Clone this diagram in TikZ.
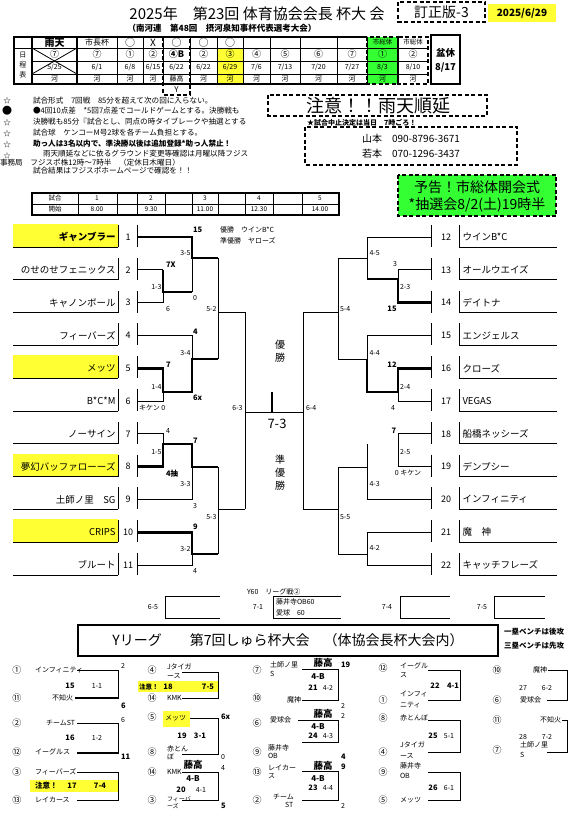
\documentclass[tikz,border=0pt]{standalone}
\usepackage{fontspec}
\setmainfont{Noto Sans CJK JP}
\newcommand\fs[1]{\fontsize{#1}{#1}\selectfont}
\definecolor{ylw}{HTML}{FFFF33}
\definecolor{grn}{HTML}{33FF33}
\begin{document}
\begin{tikzpicture}[x=1pt,y=-1pt,
  every node/.style={inner sep=0pt,outer sep=0pt},
  ln/.style={line width=0.8pt},
  win/.style={line width=2.6pt},
  tk/.style={line width=1.8pt},
  lbl/.style={font=\fs{7}},
  bn/.style={font=\fs{7.5}\bfseries},
  nm/.style={font=\fs{9.5}},
  sm/.style={font=\fs{7}},
  cn/.style={font=\fs{9}},
  fj/.style={font=\fs{9.5}\bfseries},
  fb/.style={font=\fs{8}\bfseries},
  nt/.style={font=\fs{7.6},anchor=west},
  dbox/.style={draw,line width=1.4pt,dash pattern=on 4pt off 2.5pt},
]
\useasboundingbox (0,0) rectangle (581,818);
\fill[white] (0,0) rectangle (581,818);

% ---------------- header
\node[font=\fs{15}] (title) at (257,14) {2025年　第23回 体育協会会長 杯大 会};
\node[font=\fs{8.5}\bfseries] (sub) at (222,28) {（南河連　第48回　摂河泉知事杯代表選考大会）};
\draw[dbox] (398,2) rectangle (485,22);
\node[font=\fs{14}] (ver) at (441.5,12) {訂正版-3};
\fill[ylw] (488,4) rectangle (556,22);
\node[font=\fs{10}\bfseries] (date) at (522,13.5) {2025/6/29};

% ---------------- schedule table
\fill[ylw] (217,48) rectangle (243,84);
\fill[grn] (367,37) rectangle (398,84);
\draw[ln] (14,48) -- (428,48);
\draw[ln] (32,61) -- (428,61) (32,74) -- (428,74);
\foreach \x in {32,77,117,143,163,190,217,243,270,300,337,367,398} \draw[ln] (\x,37) -- (\x,84);
\draw[line width=1.3pt] (367,37) -- (14,37) -- (14,84) -- (367,84);
\draw[line width=1.8pt] (32,37) rectangle (77,84);
\draw[ln] (32,48) -- (77,74) (32,74) -- (77,48);
\draw[dbox] (163,37) rectangle (190,95);
\draw[dbox] (367,37) rectangle (398,84);
\draw[dbox] (398,37) rectangle (428,84);
\node[font=\fs{8}] (ylab) at (176.5,90) {Y};
\draw[line width=2.2pt] (431,35) rectangle (460,84);
\node[font=\fs{9.5}\bfseries] (bon) at (445.5,53) {盆休};
\node[font=\fs{9.5}\bfseries] (bond) at (445.5,68) {8/17};
\node[font=\fs{7}] (k1) at (23,55) {日};
\node[font=\fs{7}] (k2) at (23,65) {程};
\node[font=\fs{7}] (k3) at (23,75) {表};
\node[font=\fs{10}\bfseries] (h1) at (54.5,42.5) {雨天};
\node[font=\fs{8}] (h2) at (97,42.5) {市長杯};
\foreach \x/\a [count=\i] in {130/○,153/X,176.5/○,203.5/○,230/○}
  \node[font=\fs{10}] (hh\i) at (\x,42.5) {\a};
\node[font=\fs{6.5}] (h13) at (382.5,42.5) {市総体};
\node[font=\fs{6.5}] (h14) at (413,42.5) {市総体};
\foreach \x/\a [count=\i] in {54.5/⑦,97/⑦,130/①,153/②,176.5/{\bfseries ④B},203.5/②,230/③,256.5/④,285/⑤,318.5/⑥,352/⑦,382.5/①,413/②}
  \node[font=\fs{9}] (c\i) at (\x,54.5) {\a};
\foreach \x/\m/\dd [count=\i] in {54.5/5/25,97/6/1,130/6/8,153/6/15,176.5/6/22,203.5/6/22,230/6/29,256.5/7/6,285/7/13,318.5/7/20,352/7/27,382.5/8/3,413/8/10}
  \node[font=\fs{7}] (d\i) at (\x,67.5) {\m/\dd};
\foreach \x/\a [count=\i] in {54.5/河,97/河,130/河,153/河,176.5/藤高,203.5/河,230/河,256.5/河,285/河,318.5/河,352/河,382.5/河,413/河}
  \node[font=\fs{7}] (g\i) at (\x,79) {\a};

% ---------------- notes
\begin{scope}
\clip (0,94) rectangle (249,176);
\node[font=\fs{7.5}] (s1) at (7,101) {☆};
\node[font=\fs{10}] (s2) at (7,111) {●};
\node[font=\fs{7.5}] (s3) at (7,123) {☆};
\node[font=\fs{7.5}] (s4) at (7,134) {☆};
\node[font=\fs{7.5}] (s5) at (7,145) {☆};
\node[font=\fs{7}] (s6) at (7,155.5) {☆};
\node[nt] (n1) at (33,100.5) {試合形式　7回戦　85分を超えて次の回に入らない。};
\node[nt] (n2) at (33,111) {●4回10点差　*5回7点差でコールドゲームとする。決勝戦も};
\node[nt] (n3) at (33,122) {決勝戦も85分『試合とし、同点の時タイブレークや抽選とする};
\node[nt] (n4) at (33,133) {試合球　ケンコーM号2球を各チーム負担とする。};
\node[nt,font=\fs{7.6}\bfseries] (n5) at (33,144) {助っ人は3名以内で、準決勝以後は追加登録*助っ人禁止！};
\node[nt] (n6) at (43,154) {雨天順延などに依るグラウンド変更等確認は月曜以降フジス};
\node[nt] (n7) at (0,163) {事務局　フジスポ株12時～7時半　（定休日木曜日）};
\node[nt] (n8) at (33,171) {試合結果はフジスポホームページで確認を！！};
\end{scope}

% ---------------- notice boxes
\draw[dbox] (268,95) rectangle (487,116);
\node[font=\fs{18}] (rain) at (378,105.5) {注意！！雨天順延};
\node[font=\fs{7}\bfseries,anchor=west] (stop) at (307,123) {★試合中止決定は当日　7時ごろ！};
\draw[dbox] (305,127) rectangle (517,165);
\node[font=\fs{10}] (tel1) at (411,138.5) {山本　090-8796-3671};
\node[font=\fs{10}] (tel2) at (411,153.5) {若本　070-1296-3437};
\draw[dbox,fill=grn] (398,175) rectangle (556,216);
\node[font=\fs{14}] (g1) at (477,187.5) {予告！市総体開会式};
\node[font=\fs{14}] (g2) at (477,204.5) {*抽選会8/2(土)19時半};

% ---------------- time table
\draw[ln] (32,204) -- (339,204);
\foreach \x in {78,117,137,165,192,218,245,273,302} \draw[ln] (\x,193) -- (\x,215);
\draw[line width=1.3pt] (32,193) rectangle (339,215);
\node[font=\fs{6.5}] (tt0) at (55,198.5) {試合};
\node[font=\fs{6.5}] (tu0) at (55,209.5) {開始};
\foreach \x/\a/\b [count=\i] in {97/1/8.00,151/2/9.30,205/3/11.00,259/4/12.30,320/5/14.00}{
  \node[font=\fs{6.5}] (tt\i) at (\x,198.5) {\a};
  \node[font=\fs{6.5}] (tu\i) at (\x,209.5) {\b};
}

% ---------------- teams
\foreach \i in {1,5,8,10} \fill[ylw] (13,{237+(\i-1)*32.8-13}) rectangle (118,{237+(\i-1)*32.8+10});
\foreach \t [count=\i] in {{\bfseries ギャンブラー},のせのせフェニックス,キャノンボール,フィーバーズ,メッツ,B*C*M,ノーサイン,夢幻バッファローーズ,土師ノ里　SG,CRIPS,ブルート}{
  \pgfmathsetmacro\y{237+(\i-1)*32.8}
  \draw[ln] (13,\y+10) -- (118,\y+10) (118,\y-12) -- (118,\y+10) (137,\y-12) -- (137,\y+10);
  \node[nm,anchor=east] (L\i) at (115.5,\y) {\t};
  \node[font=\fs{9}] (Ln\i) at (128,\y) {\i};
}
\foreach \t [count=\i] in {ウインB*C,オールウエイズ,デイトナ,エンジェルス,クローズ,VEGAS,船橋ネッシーズ,デンプシー,インフィニティ,魔　神,キャッチフレーズ}{
  \pgfmathsetmacro\y{237+(\i-1)*32.8}
  \pgfmathtruncatemacro\k{\i+11}
  \draw[ln] (459,\y+10) -- (557,\y+10) (459,\y-12) -- (459,\y+10) (431,\y-12) -- (431,\y+10);
  \node[nm,anchor=west] (R\k) at (462.5,\y) {\t};
  \node[font=\fs{9}] (Rn\k) at (446,\y) {\k};
}

% ---------------- left bracket
\draw[win] (137,237) -- (192,237) -- (192,258) -- (218,258);
\draw[ln] (137,269.8) -- (163,269.8);
\draw[win] (163,269.8) -- (163,292) -- (192,292);
\draw[ln] (137,302.6) -- (163,302.6) -- (163,292);
\draw[ln] (192,258) -- (192,292);
\draw[ln] (218,258) -- (218,359) (218,312) -- (245,312);
\draw[ln] (137,335.4) -- (192,335.4) -- (192,359);
\draw[win] (137,368.2) -- (163,368.2) -- (163,392) -- (192,392) -- (192,359) -- (218,359);
\draw[ln] (137,401) -- (163,401) -- (163,392);
\draw[ln] (137,433.8) -- (163,433.8) -- (163,444);
\draw[win] (137,466.6) -- (163,466.6) -- (163,444) -- (192,444) -- (192,467) -- (218,467);
\draw[ln] (137,499.4) -- (192,499.4) -- (192,467);
\draw[win] (137,532.2) -- (192,532.2) -- (192,554) -- (218,554);
\draw[ln] (137,565) -- (192,565) -- (192,554);
\draw[ln] (218,467) -- (218,554) (218,509) -- (245,509);
\draw[ln] (245,312) -- (245,509);
\draw[ln] (245,412) -- (303,412);
\draw[win] (272,392) -- (272,412);
\draw[ln] (303,312) -- (303,509);

% ---------------- right bracket
\draw[ln] (431,237) -- (367,237) -- (367,279);
\draw[ln] (431,269.8) -- (398,269.8) -- (398,279);
\draw[win] (431,302.6) -- (398,302.6) -- (398,279) -- (367,279);
\draw[ln] (367,258) -- (338,258);
\draw[ln] (338,258) -- (338,359) (338,312) -- (303,312);
\draw[ln] (431,335.4) -- (367,335.4) -- (367,359);
\draw[win] (431,368.2) -- (398,368.2) -- (398,392) -- (367,392) -- (367,359);
\draw[ln] (367,359) -- (338,359);
\draw[ln] (431,401) -- (398,401) -- (398,392);
\draw[ln] (431,433.8) -- (398,433.8) -- (398,466.6) -- (431,466.6);
\draw[ln] (367,444) -- (367,499.4) -- (431,499.4);
\draw[ln] (338,467) -- (367,467);
\draw[ln] (431,532.2) -- (367,532.2) -- (367,565) -- (431,565);
\draw[ln] (367,554) -- (338,554);
\draw[ln] (338,467) -- (338,554) (338,509) -- (303,509);

% ---------------- bracket labels left
\node[bn,anchor=west] (a1) at (193,230) {15};
\node[lbl,anchor=east] (a2) at (190.5,253) {3-5};
\node[lbl,anchor=west] (a3) at (193,298) {0};
\node[bn,anchor=west] (a4) at (166,265) {7X};
\node[lbl,anchor=east] (a5) at (161.5,287) {1-3};
\node[lbl,anchor=west] (a6) at (166,309) {6};
\node[lbl,anchor=east] (a7) at (216.5,309) {5-2};
\node[bn,anchor=west] (a8) at (193,332) {4};
\node[lbl,anchor=east] (a9) at (190.5,353) {3-4};
\node[bn,anchor=west] (a10) at (166,365) {7};
\node[lbl,anchor=east] (a11) at (161.5,387) {1-4};
\node[lbl,anchor=west] (a12) at (139,408) {キケン\ 0};
\node[bn,anchor=west] (a13) at (193,398) {6x};
\node[lbl,anchor=west] (a14) at (166,431) {4};
\node[lbl,anchor=east] (a15) at (161.5,452) {1-5};
\node[bn,anchor=west] (a16) at (193,441) {7};
\node[bn,anchor=west] (a17) at (166,474) {4抽};
\node[lbl,anchor=east] (a18) at (190.5,484) {3-3};
\node[lbl,anchor=west] (a19) at (193,506) {3};
\node[bn,anchor=west] (a20) at (193,527) {9};
\node[lbl,anchor=east] (a21) at (190.5,549) {3-2};
\node[lbl,anchor=west] (a22) at (193,571) {4};
\node[lbl,anchor=east] (a23) at (216.5,517) {5-3};
\node[lbl,anchor=east] (a24) at (242.5,408) {6-3};
\node[font=\fs{13}] (fin) at (277,424) {7-3};
\node[lbl,anchor=west] (a25) at (306,408) {6-4};
\node[font=\fs{10}] (v1) at (280,345) {優};
\node[font=\fs{10}] (v2) at (280,358) {勝};
\node[font=\fs{10}] (w1) at (280,460) {準};
\node[font=\fs{10}] (w2) at (280,473) {優};
\node[font=\fs{10}] (w3) at (280,486) {勝};
\node[font=\fs{7},anchor=west] (win1) at (220,230) {優勝　ウインB*C};
\node[font=\fs{7},anchor=west] (win2) at (220,241) {準優勝　ヤローズ};

% ---------------- bracket labels right
\node[lbl,anchor=west] (b1) at (369.5,253) {4-5};
\node[lbl] (b2) at (395,264) {3};
\node[lbl,anchor=west] (b3) at (400,287) {2-3};
\node[bn] (b4) at (392,309) {15};
\node[lbl,anchor=west] (b5) at (340,309) {5-4};
\node[lbl,anchor=west] (b6) at (369.5,353) {4-4};
\node[bn] (b7) at (392,365) {12};
\node[lbl,anchor=west] (b8) at (400,387) {2-4};
\node[lbl] (b9) at (393,408) {4};
\node[bn] (b10) at (394,431) {7};
\node[lbl,anchor=west] (b11) at (400,452) {2-5};
\node[lbl] (b12) at (408,473) {0 キケン};
\node[lbl,anchor=west] (b13) at (369.5,484) {4-3};
\node[lbl,anchor=west] (b14) at (340,517) {5-5};
\node[lbl,anchor=west] (b15) at (369.5,548) {4-2};

% ---------------- Y60
\node[font=\fs{7},anchor=west] (y60) at (247,592) {Y60　リーグ戦②};
\node[lbl] (e1) at (153,607) {6-5};
\draw[ln] (220,596) -- (165,596) -- (165,618) -- (220,618);
\node[lbl] (e2) at (258,607) {7-1};
\draw[ln] (341,596) -- (273,596) -- (273,618) -- (341,618);
\node[font=\fs{7},anchor=west] (e2a) at (276,601.5) {藤井寺OB60};
\node[font=\fs{7},anchor=west] (e2b) at (276,612.5) {愛球　60};
\node[lbl] (e3) at (387,607) {7-4};
\draw[ln] (450,596) -- (400,596) -- (400,618) -- (450,618);
\node[lbl] (e4) at (482,607) {7-5};
\draw[ln] (545,596) -- (494,596) -- (494,618) -- (545,618);

% ---------------- Y league title
\draw[line width=2pt] (78,625) rectangle (498,656);
\node[font=\fs{14}] (yl) at (288,640.5) {Yリーグ　　第7回しゅら杯大会　（体協会長杯大会内）};
\node[font=\fs{7.5}\bfseries,anchor=west] (bench1) at (504,632) {一塁ベンチは後攻};
\node[font=\fs{7.5}\bfseries,anchor=west] (bench2) at (504,646) {三塁ベンチは先攻};

% ---------------- league col 1
\node[cn] (p1) at (17,670) {①}; \node[sm,anchor=west] (q1) at (35,670) {インフィニティ};
\draw[ln] (77,670) -- (118,670) -- (118,698); \draw[tk] (75,698) -- (118.9,698);
\node[lbl,anchor=west] (r1) at (121,666) {2};
\node[bn] (r2) at (70,686) {15}; \node[sm] (r3) at (97,686) {1-1};
\node[cn] (p2) at (17,698) {⑪}; \node[sm,anchor=east] (q2) at (73,698) {不知火};
\node[bn,anchor=west] (r4) at (121,706) {6};
\node[cn] (p3) at (17,723) {②}; \node[sm,anchor=east] (q3) at (75,723) {チームST};
\draw[ln] (77,723) -- (118,723) -- (118,753); \draw[tk] (77,753) -- (118.9,753);
\node[lbl,anchor=west] (r5) at (121,720) {6};
\node[bn] (r6) at (70,738) {16}; \node[sm] (r7) at (97,738) {1-2};
\node[cn] (p4) at (17,752) {⑫}; \node[sm,anchor=west] (q4) at (35,752) {イーグルス};
\node[bn,anchor=west] (r8) at (121,757) {11};
\node[cn] (p5) at (17,772) {③}; \node[sm,anchor=west] (q5) at (35,772) {フィーバーズ};
\draw[ln] (77,772) -- (118,772) -- (118,800) -- (77,800);
\fill[ylw] (30,780) rectangle (118,792);
\node[bn,anchor=west] (r9) at (35,786) {注意！}; \node[bn] (r10) at (72,786) {17}; \node[bn] (r11) at (100,786) {7-4};
\node[cn] (p6) at (17,800) {⑬}; \node[sm,anchor=west] (q6) at (35,800) {レイカース};

% ---------------- league col 2
\node[cn] (p7) at (152,670) {④}; \node[sm,anchor=west] (q7) at (167,667) {Jタイガ}; \node[sm,anchor=west] (q7b) at (167,676) {ース};
\draw[ln] (182,672) -- (218,672) -- (218,698) -- (182,698);
\fill[ylw] (138,681) rectangle (218,692);
\node[font=\fs{6.5}\bfseries,anchor=west] (r12) at (139,686.5) {注意！}; \node[bn] (r13) at (168,686.5) {18}; \node[bn,anchor=east] (r14) at (214,686.5) {7-5};
\node[cn] (p8) at (152,698) {⑭}; \node[sm,anchor=west] (q8) at (167,698) {KMK};
\node[cn] (p9) at (152,717) {⑤}; \fill[ylw] (163,711) rectangle (190,727); \node[sm,anchor=west] (q9) at (165,718) {メッツ};
\draw[ln] (190,718) -- (218,718) -- (218,754) -- (182,754);
\node[bn,anchor=west] (r15) at (221,717) {6x};
\node[bn] (r16) at (182,736) {19}; \node[bn] (r17) at (200,736) {3-1};
\node[cn] (p10) at (152,752) {⑧}; \node[sm,anchor=west] (q10) at (167,749) {赤とん}; \node[sm,anchor=west] (q10b) at (167,757) {ぼ};
\node[lbl,anchor=west] (r18) at (221,757) {0};
\node[cn] (p11) at (152,772) {⑭}; \node[sm,anchor=west] (q11) at (167,772) {KMK};
\node[fj] (r19) at (193,765) {藤高};
\draw[ln] (182,772) -- (218,772) -- (218,800) -- (182,800);
\node[lbl,anchor=west] (r20) at (221,768) {4};
\node[fb] (r21) at (193,779) {4-B};
\node[bn] (r22) at (181,790) {20}; \node[sm] (r23) at (201,790) {4-1};
\node[cn] (p12) at (152,800) {③}; \node[font=\fs{6},anchor=west] (q12) at (167,799) {フィーバ}; \node[font=\fs{6},anchor=west] (q12b) at (167,806) {ーズ};
\node[bn,anchor=west] (r24) at (221,806) {5};

% ---------------- league col 3
\node[cn] (p13) at (257,670) {⑦}; \node[sm,anchor=west] (q13) at (270,665) {土師ノ里}; \node[sm,anchor=west] (q13b) at (270,674) {S};
\node[fj] (r25) at (323,663) {藤高}; \node[bn,anchor=west] (r26) at (341,665) {19};
\draw[ln] (302,669) -- (338,669) -- (338,700) -- (302,700);
\node[fb] (r27) at (318,677) {4-B};
\node[bn] (r28) at (313,688) {21}; \node[sm] (r29) at (328,688) {4-2};
\node[cn] (p14) at (257,698) {⑩}; \node[sm,anchor=east] (q14) at (301,700) {魔神};
\node[lbl,anchor=west] (r30) at (341,706) {2};
\node[cn] (p15) at (257,723) {⑥}; \node[sm,anchor=west] (q15) at (270,720) {愛球会};
\node[fj] (r31) at (323,714) {藤高}; \node[lbl,anchor=west] (r32) at (341,716) {2};
\draw[ln] (298,720) -- (338,720) -- (338,742) -- (302,742);
\node[fb] (r33) at (318,727) {4-B};
\node[bn] (r34) at (313,736) {24}; \node[sm] (r35) at (328,736) {4-3};
\node[cn] (p16) at (257,752) {⑨}; \node[sm,anchor=west] (q16) at (268,748) {藤井寺}; \node[sm,anchor=west] (q16b) at (268,756) {OB};
\node[bn,anchor=west] (r36) at (341,757) {4};
\node[cn] (p17) at (257,772) {⑬}; \node[sm,anchor=west] (q17) at (268,768) {レイカー}; \node[sm,anchor=west] (q17b) at (268,776) {ス};
\node[fj] (r37) at (323,766) {藤高}; \node[bn,anchor=west] (r38) at (341,767) {9};
\draw[ln] (302,771) -- (338,771) -- (338,800) -- (302,800);
\node[fb] (r39) at (318,779) {4-B};
\node[bn] (r40) at (313,788) {23}; \node[sm] (r41) at (328,788) {4-4};
\node[cn] (p18) at (257,800) {②}; \node[sm,anchor=west] (q18) at (273,797) {チーム}; \node[sm,anchor=west] (q18b) at (285,805) {ST};
\node[lbl,anchor=west] (r42) at (341,806) {2};

% ---------------- league col 4
\node[cn] (p19) at (383,668) {⑫}; \node[sm,anchor=west] (q19) at (400,666) {イーグル}; \node[sm,anchor=west] (q19b) at (400,675) {ス};
\draw[ln] (428,670) -- (460,670) -- (460,700) -- (428,700);
\node[bn] (r43) at (435,686) {22}; \node[bn] (r44) at (453,686) {4-1};
\node[cn] (p20) at (383,700) {①}; \node[sm,anchor=west] (q20) at (400,694) {インフィ}; \node[sm,anchor=west] (q20b) at (400,705) {ニティ};
\node[cn] (p21) at (383,718) {⑧}; \node[sm,anchor=west] (q21) at (400,718) {赤とんぼ};
\draw[ln] (428,720) -- (460,720) -- (460,752) -- (428,752);
\node[bn] (r45) at (433,736) {25}; \node[sm] (r46) at (449,736) {5-1};
\node[cn] (p22) at (383,752) {④}; \node[sm,anchor=west] (q22) at (400,745) {Jタイガ}; \node[sm,anchor=west] (q22b) at (400,756) {ース};
\node[cn] (p23) at (383,772) {⑨}; \node[sm,anchor=west] (q23) at (400,766) {藤井寺}; \node[sm,anchor=west] (q23b) at (400,776) {OB};
\draw[ln] (428,772) -- (460,772) -- (460,800) -- (428,800);
\node[bn] (r47) at (433,788) {26}; \node[sm] (r48) at (449,788) {6-1};
\node[cn] (p24) at (383,800) {⑤}; \node[sm,anchor=west] (q24) at (400,800) {メッツ};

% ---------------- league col 5
\node[cn] (p25) at (497,670) {⑩}; \node[sm,anchor=east] (q25) at (547,670) {魔神};
\draw[ln] (548,670) -- (567,670) -- (567,700) -- (547,700);
\node[sm] (r49) at (523,688) {27}; \node[sm] (r50) at (547,688) {6-2};
\node[cn] (p26) at (497,700) {⑥}; \node[sm,anchor=west] (q26) at (520,700) {愛球会};
\node[cn] (p27) at (497,720) {⑪}; \node[sm,anchor=east] (q27) at (561,720) {不知火};
\draw[ln] (562,720) -- (567,720) -- (567,752) -- (547,752);
\node[sm] (r51) at (523,737) {28}; \node[sm] (r52) at (547,737) {7-2};
\node[cn] (p28) at (497,750) {⑦}; \node[sm,anchor=west] (q28) at (520,745) {土師ノ里}; \node[sm,anchor=west] (q28b) at (520,755) {S};
\end{tikzpicture}
\end{document}
